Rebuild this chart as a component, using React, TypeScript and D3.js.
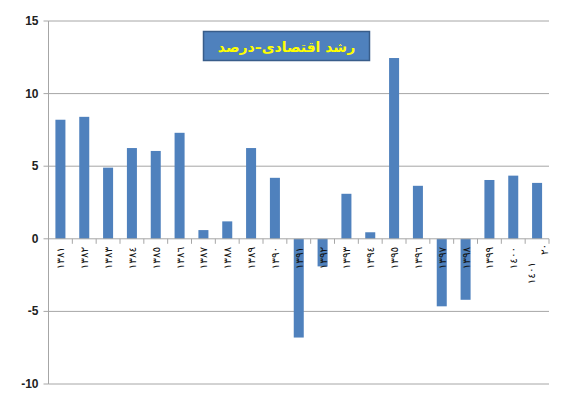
import React from "react";
import * as d3 from "d3";

const years = ["١٣٨١","١٣٨٢","١٣٨٣","١٣٨٤","١٣٨٥","١٣٨٦","١٣٨٧","١٣٨٨","١٣٨٩","١٣٩٠","١٣٩١","١٣٩٢","١٣٩٣","١٣٩٤","١٣٩٥","١٣٩٦","١٣٩٧","١٣٩٨","١٣٩٩","١٤٠٠","١٤٠١"];
const growth = [8.2, 8.4, 4.9, 6.25, 6.05, 7.3, 0.6, 1.2, 6.25, 4.2, -6.8, -1.9, 3.1, 0.45, 12.45, 3.65, -4.65, -4.2, 4.05, 4.35, 3.85];
const yTicks = [-10, -5, 0, 5, 10, 15];
const title = "رشد اقتصادی–درصد";
const lastExtra = "٢٠";

export default function App() {
  const W = 573, H = 419;
  const left = 48.5, right = 549, top = 21, bottom = 384;
  const x = d3.scaleBand<string>().domain(years).range([left, right]).paddingInner(0.58).paddingOuter(0.29);
  const xb = d3.scaleBand<string>().domain(years).range([left, right]);
  const y = d3.scaleLinear().domain([-10, 15]).range([bottom, top]);
  const grid = "#a6a6a6";
  const last = years[years.length - 1];
  const lastC = (xb(last) as number) + xb.bandwidth() / 2;
  return (
    <svg width={W} height={H} style={{ position: "absolute", left: 0, top: 0, background: "#fff" }}>
      {yTicks.map((t) => (
        <g key={t}>
          {t !== 0 && <line x1={left} x2={right} y1={y(t)} y2={y(t)} stroke={grid} strokeWidth={1} />}
          <line x1={left - 5} x2={left} y1={y(t)} y2={y(t)} stroke={grid} strokeWidth={1} />
          <text x={left - 10} y={y(t)} textAnchor="end" dominantBaseline="central" fontFamily="Liberation Sans, Arial, sans-serif" fontWeight="bold" fontSize={12} fill="#222">{t}</text>
        </g>
      ))}
      <line x1={left} x2={left} y1={top} y2={bottom} stroke={grid} strokeWidth={1} />
      {growth.map((v, i) => {
        const yr = years[i];
        return (
          <rect key={yr} x={x(yr)} width={x.bandwidth()} y={Math.min(y(v), y(0))} height={Math.abs(y(v) - y(0))} fill="#4F81BD" />
        );
      })}
      <line x1={left} x2={right} y1={y(0)} y2={y(0)} stroke={grid} strokeWidth={1} />
      {years.map((yr) => (
        <line key={"t" + yr} x1={xb(yr)! + xb.bandwidth()} x2={xb(yr)! + xb.bandwidth()} y1={y(0)} y2={y(0) + 5} stroke={grid} strokeWidth={1} />
      ))}
      <line x1={left} x2={left} y1={y(0)} y2={y(0) + 5} stroke={grid} strokeWidth={1} />
      {years.map((yr, i) => {
        const isLast = i === years.length - 1;
        const cx = (xb(yr) as number) + xb.bandwidth() / 2 + (isLast ? -6 : 0);
        const ty = y(0) + (isLast ? 23 : 8);
        return (
          <text key={"l" + yr} transform={`translate(${cx},${ty}) rotate(-90)`} textAnchor="end" dominantBaseline="central" fontFamily="DejaVu Sans, sans-serif" fontSize={10.5} fill="#111">{yr}</text>
        );
      })}
      <text transform={`translate(${lastC + 7},${y(0) + 5}) rotate(-90)`} textAnchor="end" dominantBaseline="central" fontFamily="DejaVu Sans, sans-serif" fontSize={10.5} fill="#111">{lastExtra}</text>
      <rect x={203.5} y={31.5} width={166} height={29} fill="#4F81BD" stroke="#385D8A" strokeWidth={1.5} />
      <text x={286.5} y={46.5} textAnchor="middle" dominantBaseline="central" direction="rtl" fontFamily="DejaVu Sans, sans-serif" fontWeight="bold" fontSize={14} fill="#FFFF00">{title}</text>
    </svg>
  );
}
